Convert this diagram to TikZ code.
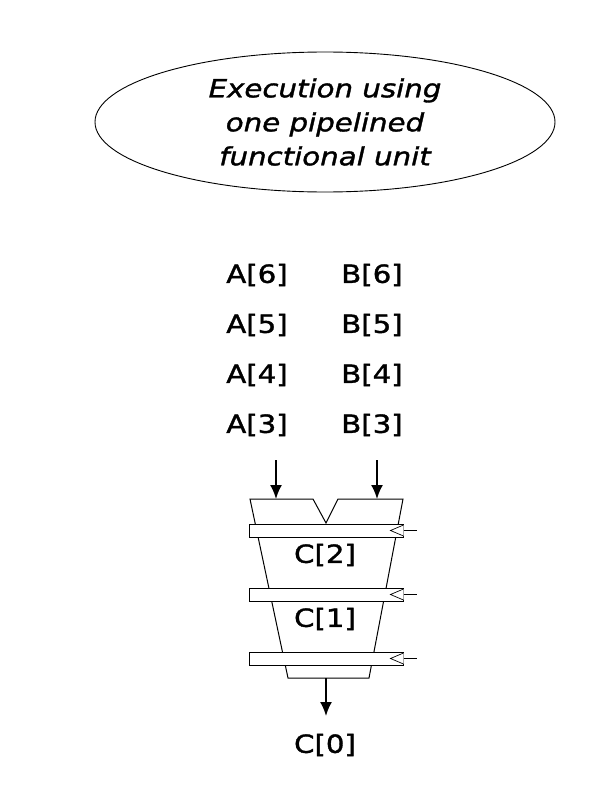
\documentclass[tikz,border=0pt]{standalone}
\usepackage{fontspec}
\setmainfont{DejaVu Sans}[FakeStretch=1.17,FakeBold=1.4]
\usetikzlibrary{positioning,arrows.meta,shapes.geometric}

\begin{document}
\begin{tikzpicture}[x=1pt,y=-1pt,
		every node/.style={font=\fontsize{25}{34}\selectfont,inner sep=0pt},
		reg/.style={draw,fill=white,rectangle,minimum width=154pt,minimum height=13pt,line width=1pt},
		feed/.style={-{Latex[length=14pt,width=12pt]},line width=1.8pt}
	]
	\useasboundingbox (0,0) rectangle (615,800);

	% Title
	\node[draw,ellipse,minimum width=460pt,minimum height=140pt,align=center,
		font=\fontsize{25}{34}\selectfont\itshape,line width=0.9pt] (title) at (325,122)
		{Execution using\\one pipelined\\functional unit};

	% Operands waiting
	\foreach \i [count=\r from 0] in {6,5,4,3} {
		\node (a\i) at (257,{275+50*\r}) {A[\i]};
		\node (b\i) at (372,{275+50*\r}) {B[\i]};
	}

	% Pipelined unit
	\draw[line width=1pt] (250,499) -- (313,499) -- (326,523) -- (338,499) -- (403,499)
		-- (369,678) -- (288,678) -- cycle;
	\node[reg] (reg1) at (326,530.5) {};
	\node[reg] (reg2) at (326,594.5) {};
	\node[reg] (reg3) at (326,658.5) {};
	\foreach \k in {1,2,3} {
		\draw[line width=0.7pt,fill=white] (reg\k.east) ++(0,-5.5) -- ++(-13,5.5) -- ++(13,5.5);
		\draw[line width=0.9pt] (reg\k.east) -- ++(13,0);
	}
	\node (c2) at (325,555) {C[2]};
	\node (c1) at (325,619) {C[1]};

	% Inputs and output
	\coordinate (inA) at (276,460);
	\coordinate (inB) at (377,460);
	\coordinate (outC) at (326,678);
	\draw[feed] (inA) -- ++(0,39);
	\draw[feed] (inB) -- ++(0,39);
	\node (c0) at (325,745) {C[0]};
	\draw[feed] (outC) -- ++(0,38);
\end{tikzpicture}
\end{document}
